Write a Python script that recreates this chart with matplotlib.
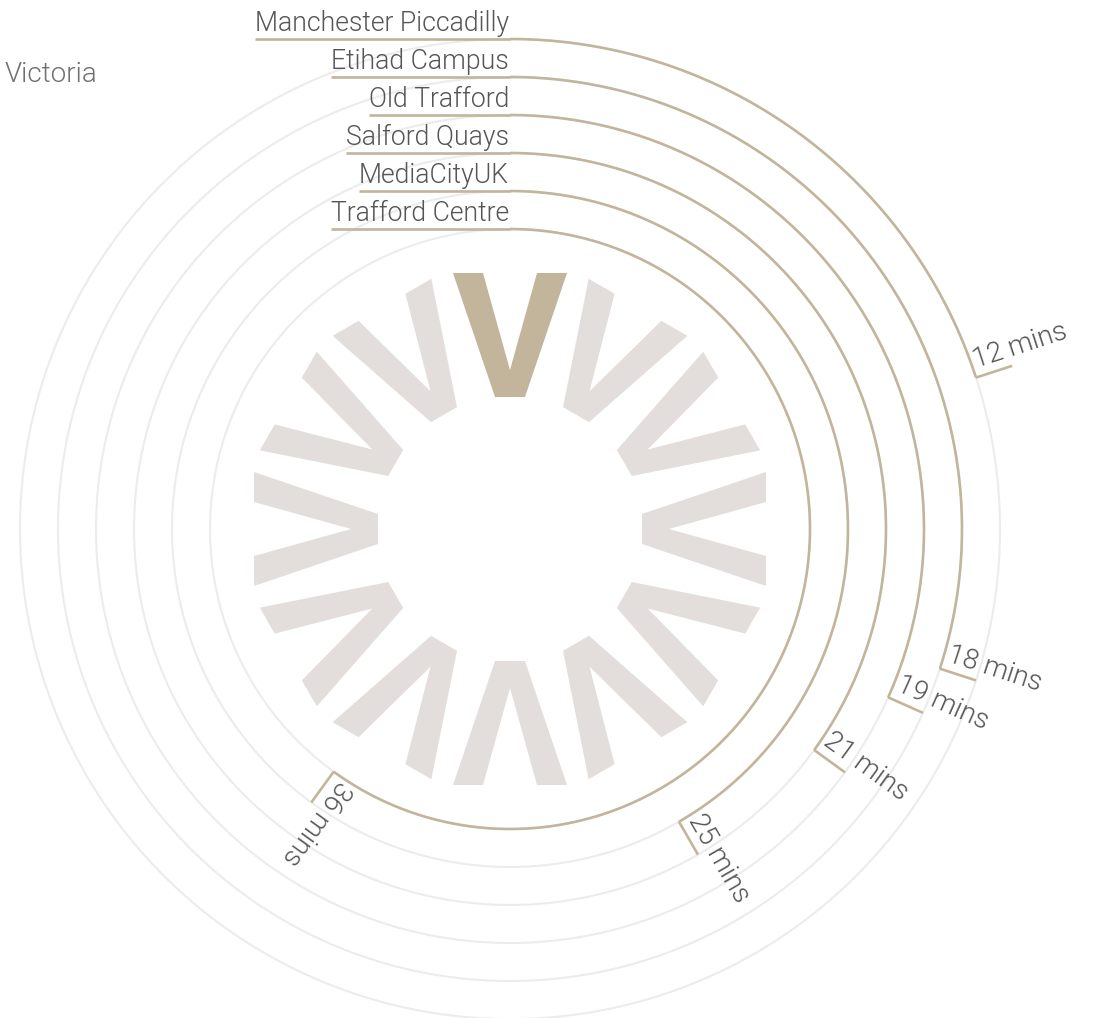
import numpy as np
import matplotlib.pyplot as plt
from matplotlib.patches import Polygon
from matplotlib import font_manager

# journey times from Victoria (minutes), outer ring first
stations = ["Manchester Piccadilly", "Etihad Campus", "Old Trafford",
            "Salford Quays", "MediaCityUK", "Trafford Centre"]
minutes = [12, 18, 19, 21, 25, 36]
origin = "Victoria"
full_scale = 60  # one full turn = 60 mins

gold = "#c2b59b"
ring_grey = "#ececec"
logo_grey = "#e3dedb"
text_col = "#555555"

names = {f.name for f in font_manager.fontManager.ttflist}
fam = ["Roboto", "DejaVu Sans"] if "Roboto" in names else ["DejaVu Sans"]
plt.rcParams["font.family"] = fam
fw = 300

W, H = 1103, 1018
cx, cy = 510, 529
fig = plt.figure(figsize=(W / 100, H / 100), dpi=100)
ax = fig.add_axes([0, 0, 1, 1])
ax.set_xlim(-cx, W - cx)
ax.set_ylim(cy - H, cy)
ax.set_aspect("equal")
ax.axis("off")

r_outer, r_step = 490, 38
radii = [r_outer - i * r_step for i in range(len(stations))]

# logo in the middle: twelve V's pointing to the centre
v_shape = np.array([(-57, 256), (-27, 256), (0, 159), (27, 256),
                    (57, 256), (15, 132), (-15, 132)], dtype=float)
for k in range(12):
    th = np.radians(30 * k)
    ex = np.array([np.cos(th), -np.sin(th)])
    ey = np.array([np.sin(th), np.cos(th)])
    pts = v_shape[:, :1] * ex + v_shape[:, 1:] * ey
    ax.add_patch(Polygon(pts, closed=True, color=gold if k == 0 else logo_grey,
                         lw=0, zorder=1))

fig.canvas.draw()
renderer = fig.canvas.get_renderer()

for name, mins, r in zip(stations, minutes, radii):
    t = np.linspace(0, 2 * np.pi, 400)
    ax.plot(r * np.sin(t), r * np.cos(t), color=ring_grey, lw=1.5, zorder=2)

    a = mins / full_scale * 2 * np.pi
    t = np.linspace(0, a, 300)
    ax.plot(r * np.sin(t), r * np.cos(t), color=gold, lw=1.9, zorder=3,
            solid_capstyle="butt")

    # station label with leader line along the top
    txt = ax.text(-1, r + 8, name, ha="right", va="baseline", fontsize=19.2,
                  fontweight=fw, color=text_col, zorder=4)
    bb = txt.get_window_extent(renderer).transformed(ax.transData.inverted())
    ax.plot([bb.x0, 0], [r, r], color=gold, lw=1.9, zorder=3,
            solid_capstyle="butt")

    # end tick and value label
    ux, uy = np.sin(a), np.cos(a)
    ax.plot([r * ux, (r + r_step) * ux], [r * uy, (r + r_step) * uy],
            color=gold, lw=1.9, zorder=3, solid_capstyle="butt")
    px, py = -uy, ux  # counter-clockwise side
    rot = 90 - np.degrees(a)
    ax.text((r + 3) * ux + 3 * px, (r + 3) * uy + 3 * py, f"{mins} mins",
            rotation=rot, rotation_mode="anchor", ha="left", va="bottom",
            fontsize=20, fontweight=fw, color=text_col, zorder=4)

ax.text(5 - cx, cy - 82, origin, ha="left", va="baseline", fontsize=20,
        fontweight=fw, color="#707070")

fig.savefig("out.png", dpi=100)
